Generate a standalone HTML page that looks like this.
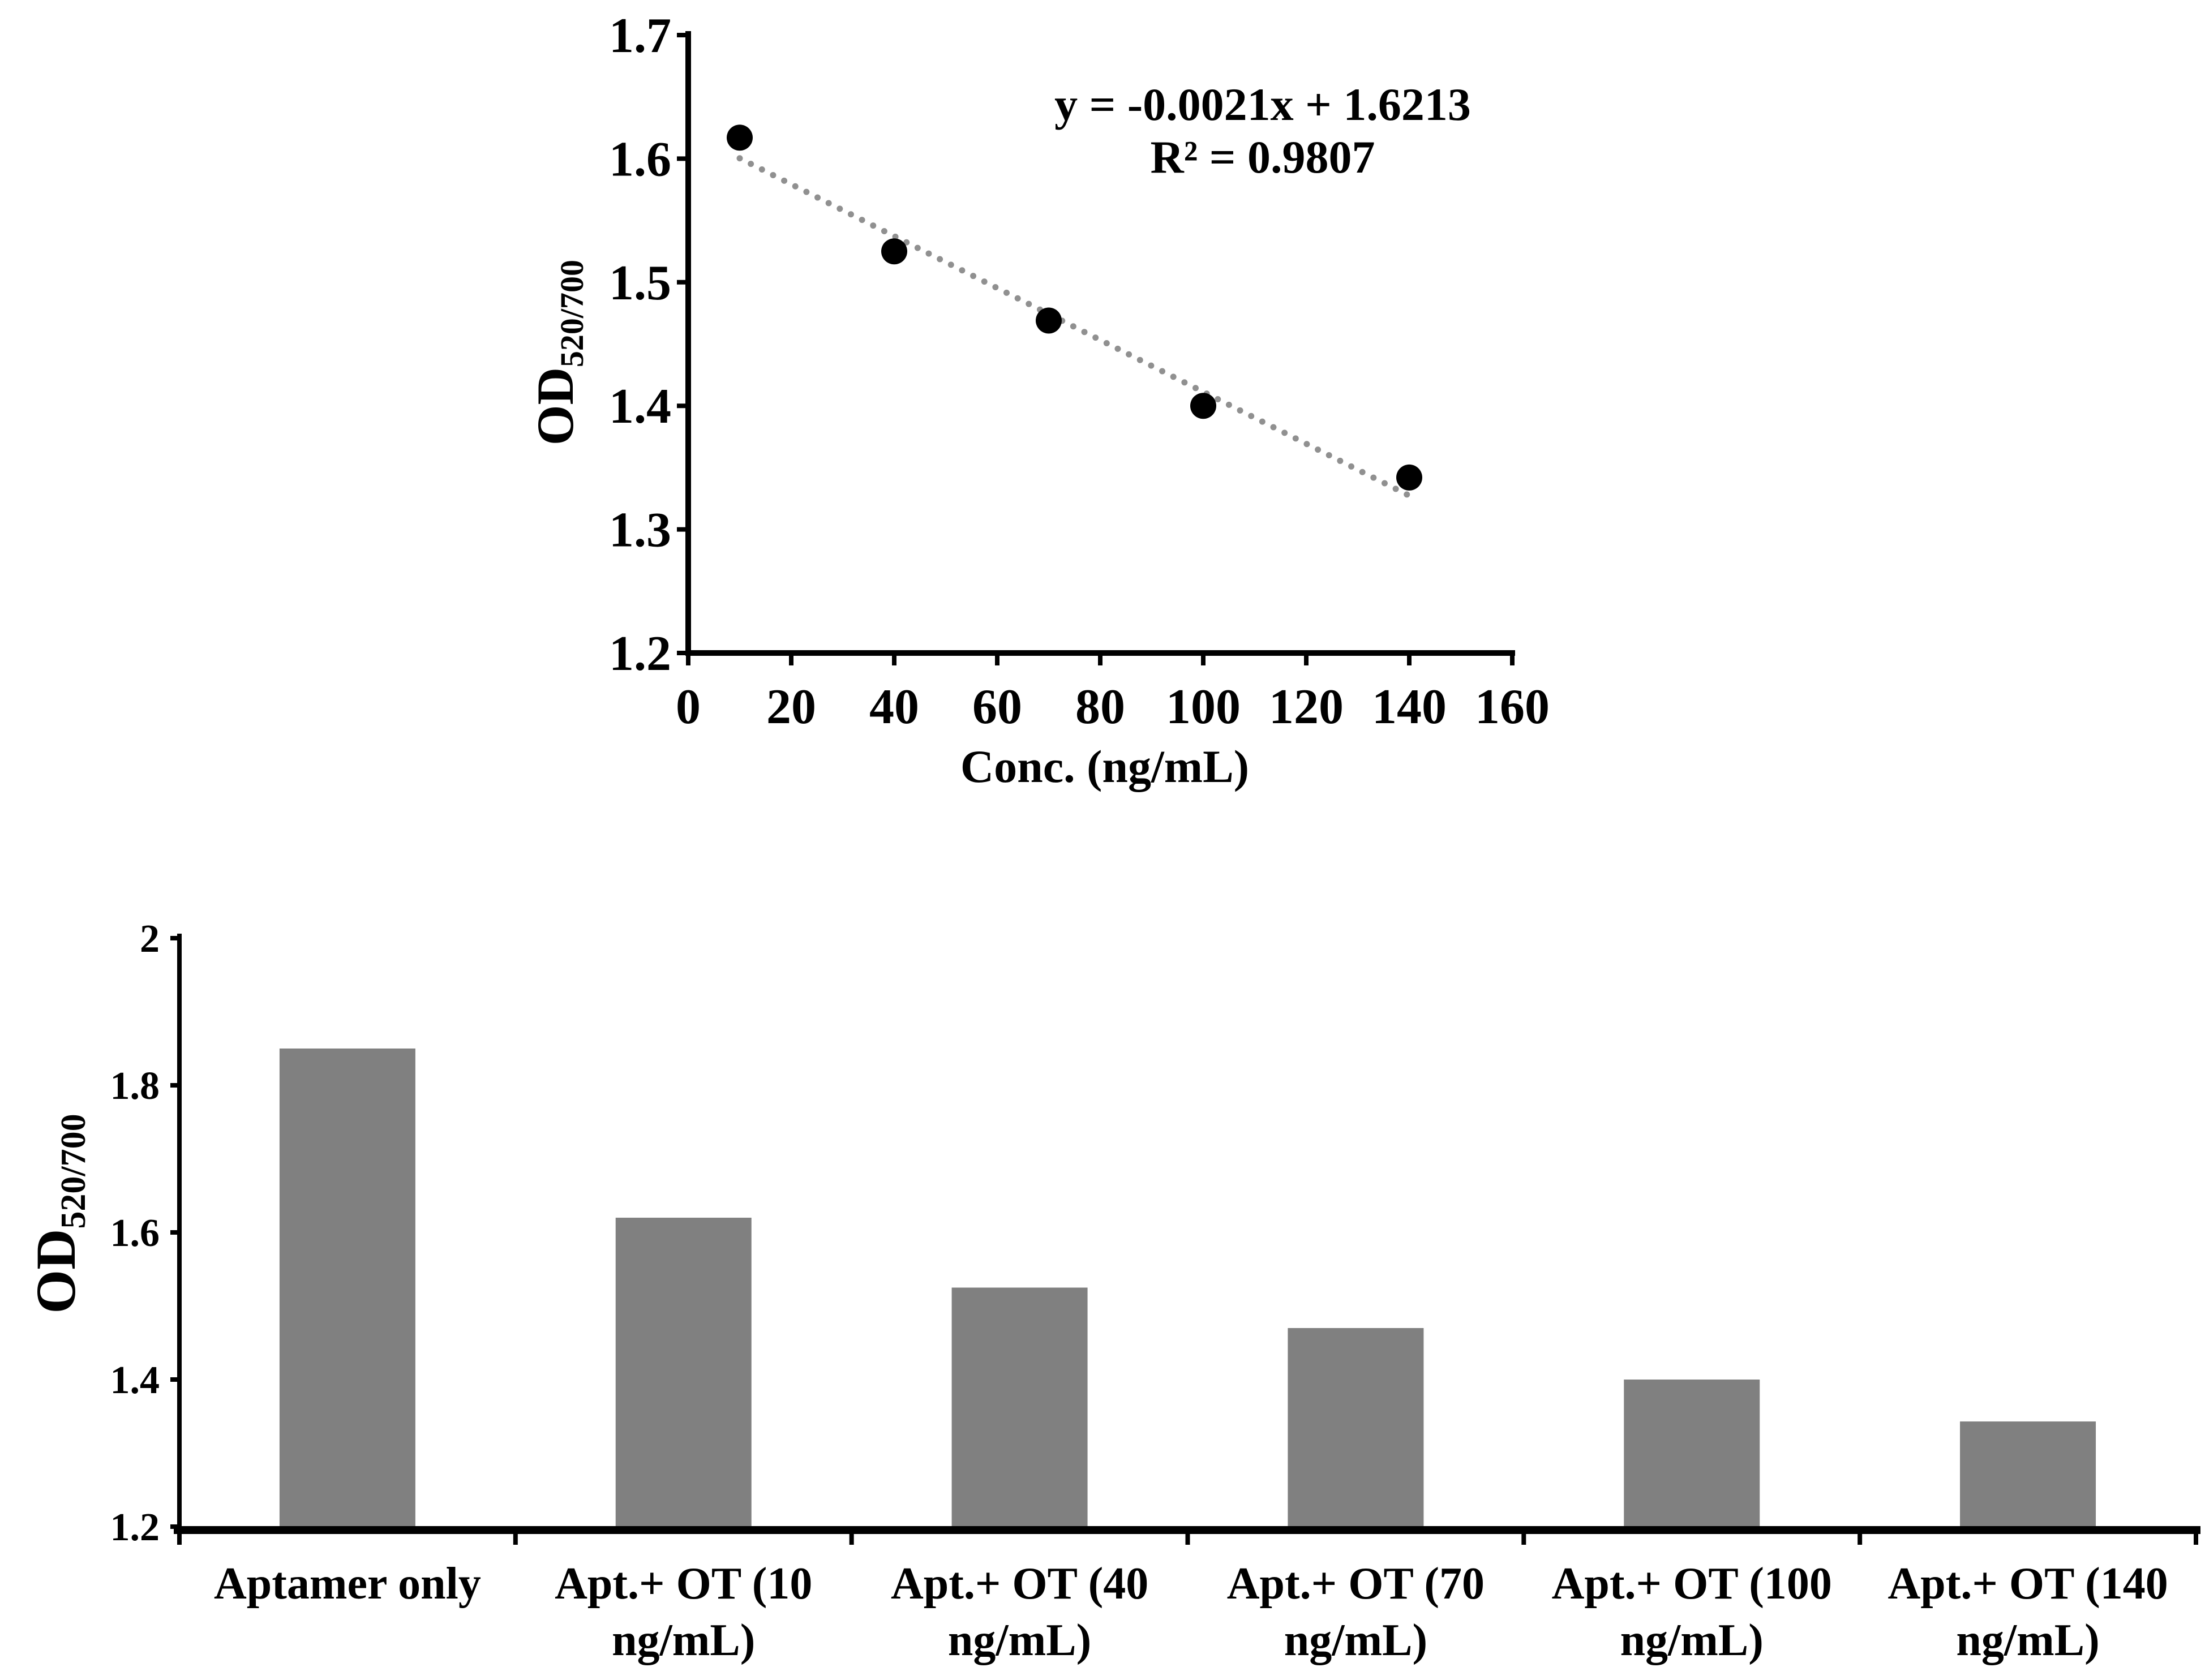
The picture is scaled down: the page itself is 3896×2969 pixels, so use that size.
<!DOCTYPE html>
<html><head><meta charset="utf-8"><style>
html,body{margin:0;padding:0;background:#fff}
svg{display:block;font-family:"Liberation Serif",serif;font-weight:bold}
</style></head><body>
<svg id="fig" width="3896" height="2969" viewBox="0 0 3896 2969">
<g id="top"></g>
<g id="bot"></g>
</svg>
<script>
const concs=[10,40,70,100,140];
const ods=[1.617,1.525,1.469,1.400,1.342];
const xTicks=[0,20,40,60,80,100,120,140,160];
const yTicksTop=[1.2,1.3,1.4,1.5,1.6,1.7];
const slope=-0.0021, intercept=1.6213;
const cats=[["Aptamer only",""],["Apt.+ OT (10","ng/mL)"],["Apt.+ OT (40","ng/mL)"],["Apt.+ OT (70","ng/mL)"],["Apt.+ OT (100","ng/mL)"],["Apt.+ OT (140","ng/mL)"]];
const barVals=[1.85,1.62,1.525,1.47,1.40,1.343];
const yTicksBot=[1.2,1.4,1.6,1.8,2];

const NS="http://www.w3.org/2000/svg";
function mk(p,t,a,txt){const e=document.createElementNS(NS,t);for(const k in a)e.setAttribute(k,a[k]);if(txt!==undefined)e.textContent=txt;p.appendChild(e);return e;}

// top chart
const T=document.getElementById('top');
const tx=v=>1216+(v-0)/160*(2672-1216);
const ty=v=>1154-(v-1.2)/0.5*(1154-62);
let e;
e=mk(T,'line',{x1:1216,y1:55,x2:1216,y2:1159,stroke:'#000','stroke-width':10});

e=mk(T,'line',{x1:1211,y1:1154,x2:2677,y2:1154,stroke:'#000','stroke-width':10});

yTicksTop.forEach(v=>{
 mk(T,'line',{x1:1196,y1:ty(v),x2:1216,y2:ty(v),stroke:'#000','stroke-width':8});
 e=mk(T,'text',{x:1186,y:ty(v)+30,'font-size':88,'text-anchor':'end'},v.toFixed(1));
 
});
xTicks.forEach(v=>{
 mk(T,'line',{x1:tx(v),y1:1154,x2:tx(v),y2:1176,stroke:'#000','stroke-width':8});
 e=mk(T,'text',{x:tx(v),y:1278,'font-size':88,'text-anchor':'middle'},String(v));
 
});
e=mk(T,'line',{x1:tx(concs[0]),y1:ty(slope*concs[0]+intercept),x2:tx(concs[4]),y2:ty(slope*concs[4]+intercept),stroke:'#909090','stroke-width':11,'stroke-dasharray':'0 22','stroke-linecap':'round'});

concs.forEach((c,i)=>{
 e=mk(T,'circle',{cx:tx(c),cy:ty(ods[i]),r:23,fill:'#000'});
 
});
e=mk(T,'text',{x:2231,y:212,'font-size':82,'text-anchor':'middle'},'y = -0.0021x + 1.6213');

e=mk(T,'text',{x:2231,y:305,'font-size':82,'text-anchor':'middle'},'R² = 0.9807');

e=mk(T,'text',{x:1952,y:1382,'font-size':82,'text-anchor':'middle'},'Conc. (ng/mL)');

e=mk(T,'text',{transform:'translate(1012,623) rotate(-90)','font-size':92,'text-anchor':'middle'});

e.innerHTML='OD<tspan font-size="58" dy="18">520/700</tspan>';

// bottom chart
const B=document.getElementById('bot');
const X0=317,X1=3880,Y2=1658,Y12=2698;
const by=v=>Y12-(v-1.2)/0.8*(Y12-Y2);
const cw=(X1-X0)/cats.length;
barVals.forEach((v,i)=>{
 const cx=X0+cw*(i+0.5);
 e=mk(B,'rect',{x:cx-120,y:by(v),width:240,height:Y12-by(v),fill:'#808080'});
 
 e=mk(B,'text',{x:cx,y:2825,'font-size':80,'text-anchor':'middle'},cats[i][0]);
 
 if(cats[i][1]){e=mk(B,'text',{x:cx,y:2925,'font-size':80,'text-anchor':'middle'},cats[i][1]);
 }
});
e=mk(B,'line',{x1:X0,y1:1650,x2:X0,y2:2730,stroke:'#000','stroke-width':8});

e=mk(B,'line',{x1:X0-10,y1:Y12+6,x2:X1+8,y2:Y12+6,stroke:'#000','stroke-width':14});

for(let i=1;i<=cats.length;i++)mk(B,'line',{x1:X0+cw*i,y1:Y12,x2:X0+cw*i,y2:2730,stroke:'#000','stroke-width':8});
yTicksBot.forEach(v=>{
 mk(B,'line',{x1:X0-16,y1:by(v),x2:X0,y2:by(v),stroke:'#000','stroke-width':8});
 e=mk(B,'text',{x:282,y:by(v)+24,'font-size':70,'text-anchor':'end'},String(v));
 
});
e=mk(B,'text',{transform:'translate(132,2145) rotate(-90)','font-size':100,'text-anchor':'middle'});

e.innerHTML='OD<tspan font-size="62" dy="18">520/700</tspan>';
</script>
</body></html>
